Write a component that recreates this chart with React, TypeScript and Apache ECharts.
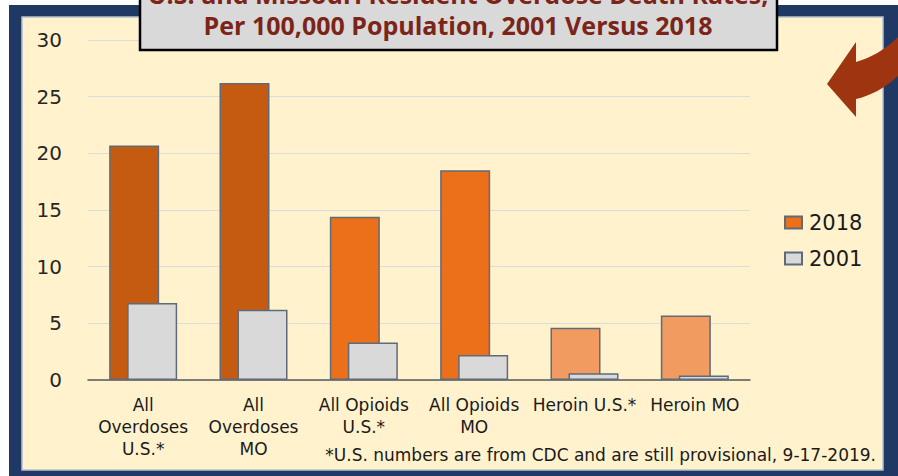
import React, { useEffect, useRef } from "react";
import * as echarts from "echarts";

const categories = [
  "All\nOverdoses\nU.S.*",
  "All\nOverdoses\nMO",
  "All Opioids\nU.S.*",
  "All Opioids\nMO",
  "Heroin U.S.*",
  "Heroin MO",
];
const values2018 = [20.7, 26.2, 14.4, 18.5, 4.6, 5.7];
const values2001 = [6.8, 6.2, 3.3, 2.2, 0.6, 0.4];
const colors2018 = ["#c55a11", "#c55a11", "#ec6f1a", "#ec6f1a", "#f19b61", "#f19b61"];
const seriesNames = ["2018", "2001"];
const titleLines = [
  "U.S. and Missouri Resident Overdose Death Rates,",
  "Per 100,000 Population, 2001 Versus 2018",
];
const footnote = "*U.S. numbers are from CDC and are still provisional, 9-17-2019.";

const FONT = "'DejaVu Sans', sans-serif";
const TITLE_FONT = "'Open Sans', 'Noto Sans', sans-serif";
const arrowPath =
  "M827,84 L856,42 L856,62 C870,58 885,50 898,37 L898,76 C885,88 870,96 856,99 L856,117 Z";

let registered = false;

export default function App() {
  const ref = useRef<HTMLDivElement>(null);
  useEffect(() => {
    document.body.style.margin = "0";
    if (!registered) {
      echarts.graphic.registerShape("logo", echarts.graphic.extendPath(arrowPath, {}) as any);
      registered = true;
    }
    const chart = echarts.init(ref.current!, null, { renderer: "svg" });
    chart.setOption({
      animation: false,
      backgroundColor: "#ffffff",
      textStyle: { fontFamily: FONT },
      graphic: {
        elements: [
          {
            type: "rect",
            z: -20,
            shape: { x: 9, y: 5, width: 889, height: 471 },
            style: { fill: "#203864" },
          },
          {
            type: "rect",
            z: -19,
            shape: { x: 22, y: 17, width: 861, height: 453 },
            style: { fill: "#fff2cc", stroke: "#b8c0cc", lineWidth: 1.5 },
          },
          {
            type: "logo",
            z: 100,
            x: 0,
            y: 0,
            style: { fill: "#9e3510" },
          },
          {
            type: "rect",
            z: 100,
            shape: { x: 140, y: -10, width: 637, height: 60 },
            style: { fill: "#d9d9d9", stroke: "#000000", lineWidth: 2.5 },
          },
          {
            type: "text",
            z: 101,
            x: 458,
            y: -6,
            style: {
              text: titleLines[0],
              fill: "#7b2418",
              font: `bold 25px ${TITLE_FONT}`,
              textAlign: "center",
              textVerticalAlign: "middle",
            },
          },
          {
            type: "text",
            z: 101,
            x: 458,
            y: 25,
            style: {
              text: titleLines[1],
              fill: "#7b2418",
              font: `bold 25px ${TITLE_FONT}`,
              textAlign: "center",
              textVerticalAlign: "middle",
            },
          },
          {
            type: "text",
            z: 101,
            x: 876,
            y: 455,
            style: {
              text: footnote,
              fill: "#1a1a1a",
              font: `17px ${FONT}`,
              textAlign: "right",
              textVerticalAlign: "middle",
            },
          },
        ],
      },
      legend: {
        data: seriesNames,
        orient: "vertical",
        left: 784,
        top: 212,
        padding: 0,
        itemWidth: 17,
        itemHeight: 12,
        itemGap: 15,
        icon: "rect",
        textStyle: { fontSize: 21, color: "#1a1a1a", fontFamily: FONT, padding: [0, 0, 0, 2] },
      },
      grid: { left: 88, right: 148, top: 40, bottom: 96, containLabel: false },
      xAxis: {
        type: "category",
        data: categories,
        axisLine: { lineStyle: { color: "#595959", width: 1.5 } },
        axisTick: { show: false },
        axisLabel: {
          interval: 0,
          fontSize: 17,
          lineHeight: 22,
          color: "#1a1a1a",
          margin: 14,
          fontFamily: FONT,
        },
      },
      yAxis: {
        type: "value",
        min: 0,
        max: 30,
        interval: 5,
        axisLine: { show: false },
        axisTick: { show: false },
        splitLine: { lineStyle: { color: "#dcdcdc", width: 1.2 } },
        axisLabel: { fontSize: 20, color: "#262626", margin: 26, fontFamily: FONT },
      },
      series: [
        {
          name: seriesNames[0],
          type: "bar",
          barWidth: 50,
          barGap: "-64%",
          itemStyle: { color: "#ec6f1a", borderColor: "#5f6b78", borderWidth: 1.5 },
          data: values2018.map((v, i) => ({ value: v, itemStyle: { color: colors2018[i] } })),
        },
        {
          name: seriesNames[1],
          type: "bar",
          barWidth: 50,
          barGap: "-64%",
          itemStyle: { color: "#d9d9d9", borderColor: "#5f6b78", borderWidth: 1.5 },
          data: values2001,
        },
      ],
    });
    return () => chart.dispose();
  }, []);
  return <div ref={ref} style={{ width: 898, height: 476 }} />;
}
